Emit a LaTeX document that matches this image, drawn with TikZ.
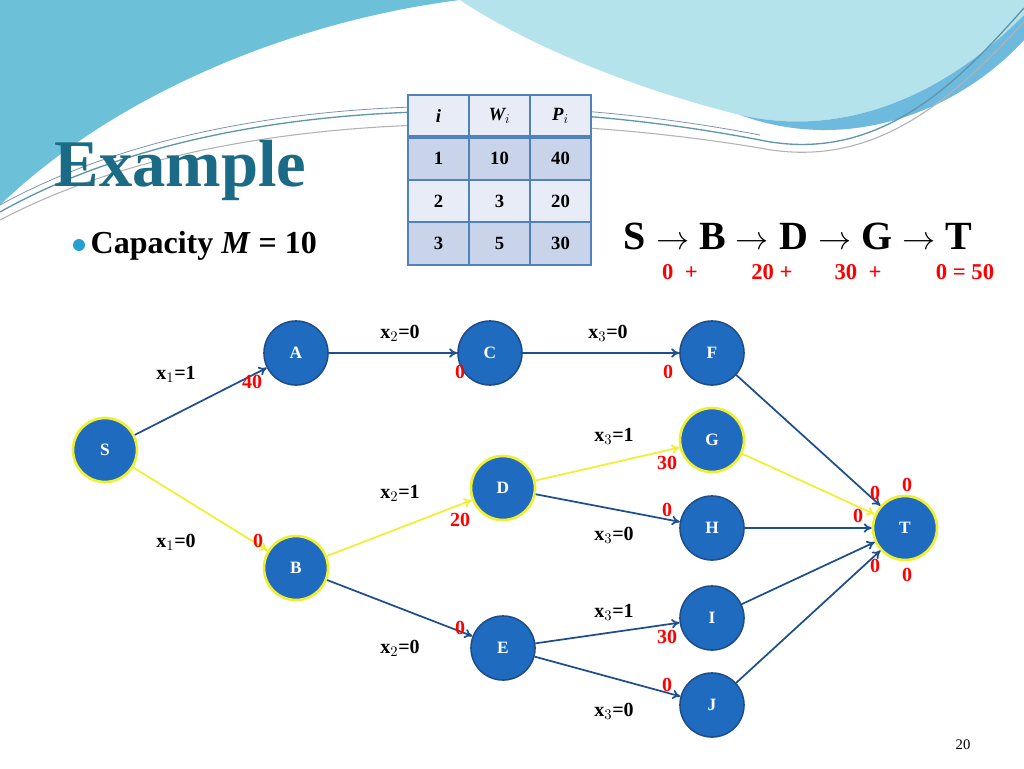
\documentclass[tikz,border=0pt]{standalone}
\usepackage{fontspec}
\setmainfont{Liberation Serif}
\usetikzlibrary{arrows.meta,positioning}
\definecolor{nodeblue}{HTML}{1F6BC0}
\definecolor{edgeblue}{HTML}{1F4E8C}
\definecolor{hiyel}{HTML}{F0F030}
\definecolor{teal}{HTML}{1C6B86}
\definecolor{wave}{HTML}{6CC0D8}
\definecolor{wavelight}{HTML}{B5E3EC}
\definecolor{wavedeep}{HTML}{4FA8DA}
\definecolor{rowdark}{HTML}{C9D4EA}
\definecolor{rowlight}{HTML}{E7ECF6}
\definecolor{tline}{HTML}{4F81BD}
\tikzset{
  vertex/.style={circle, fill=nodeblue, draw=edgeblue, line width=1.2pt, minimum size=48pt, inner sep=0pt, text=white, font=\bfseries\fontsize{13}{13}\selectfont},
  chosen/.style={vertex, draw=hiyel, line width=2pt},
  edge/.style={-{To[length=6pt,width=7pt]}, draw=edgeblue, line width=1.3pt},
  hot/.style={edge, draw=hiyel},
  xlab/.style={font=\bfseries\fontsize{15}{15}\selectfont},
  plab/.style={text=red, font=\bfseries\fontsize{15}{15}\selectfont},
  sumlab/.style={text=red, inner sep=1pt, font=\bfseries\fontsize{17}{17}\selectfont},
  cellbox/.style={draw=tline, line width=1.2pt, minimum width=45.75pt, minimum height=31.9pt, inner sep=0pt, font=\bfseries\fontsize{14}{14}\selectfont},
}
\begin{document}
\begin{tikzpicture}[x=0.75pt, y=-0.75pt]
\useasboundingbox (0,0) rectangle (1024,768);
\fill[white] (0,0) rectangle (1024,768);
% waves
\fill[wavelight] (460,0) -- (1024,0) -- (1024,15) .. controls (950,90) and (850,140) .. (740,115) .. controls (620,85) and (520,40) .. (460,0) -- cycle;
\fill[wavedeep!70!wavelight] (1024,15) .. controls (950,90) and (850,140) .. (740,115) .. controls (850,155) and (960,110) .. (1024,40) -- cycle;
\fill[wave] (0,0) -- (460,0) .. controls (300,20) and (120,90) .. (0,205) -- cycle;
\draw[teal!70, line width=1pt] (0,212) .. controls (200,100) and (500,90) .. (760,140) .. controls (880,165) and (960,80) .. (1024,8);
\draw[gray!60, line width=0.8pt] (0,220) .. controls (200,115) and (500,105) .. (760,148) .. controls (880,172) and (960,90) .. (1024,22);
\draw[edgeblue!60, line width=0.6pt] (0,205) .. controls (200,95) and (500,85) .. (760,135);
% title
\node[anchor=west, text=teal, font=\bfseries\fontsize{50}{50}\selectfont] (title) at (50,170) {Example};
\fill[cyan!70!teal] (79,245) circle (6);
\node[anchor=west, font=\bfseries\fontsize{24}{24}\selectfont] (cap) at (86,246) {Capacity \textit{M} = 10};
% table
\foreach \r/\fc [count=\k from 0] in {0/rowlight,1/rowdark,2/rowlight,3/rowdark}
  \foreach \c [count=\j from 0] in {0,1,2}
    \node[cellbox, fill=\fc] (cell-\r-\c) at (438.5+\j*61, 116+\k*42.5) {};
\node[cellbox, draw=none] at (cell-0-0) {\textit{i}};
\node[cellbox, draw=none] at (cell-0-1) {\textit{W$_i$}};
\node[cellbox, draw=none] at (cell-0-2) {\textit{P$_i$}};
\node[cellbox, draw=none] at (cell-1-0) {1};
\node[cellbox, draw=none] at (cell-1-1) {10};
\node[cellbox, draw=none] at (cell-1-2) {40};
\node[cellbox, draw=none] at (cell-2-0) {2};
\node[cellbox, draw=none] at (cell-2-1) {3};
\node[cellbox, draw=none] at (cell-2-2) {20};
\node[cellbox, draw=none] at (cell-3-0) {3};
\node[cellbox, draw=none] at (cell-3-1) {5};
\node[cellbox, draw=none] at (cell-3-2) {30};
\draw[tline, line width=3pt] (408,137) -- (590,137);
% path
\node[inner sep=1pt, font=\bfseries\fontsize{30}{30}\selectfont] (path) at (798,236) {S $\rightarrow$ B $\rightarrow$ D $\rightarrow$ G $\rightarrow$ T};
\node[sumlab] at (680,272) {0 \ +};
\node[sumlab] at (772,272) {20 +};
\node[sumlab] at (858,272) {30 \ +};
\node[sumlab] at (965,272) {0 = 50};
% graph
\node[chosen] (S) at (105,450) {S};
\node[vertex] (A) at (296,353) {A};
\node[chosen] (B) at (296,568) {B};
\node[vertex] (C) at (490,353) {C};
\node[chosen] (D) at (503,488) {D};
\node[vertex] (E) at (503,648) {E};
\node[vertex] (F) at (712,353) {F};
\node[chosen] (G) at (712,440) {G};
\node[vertex] (H) at (712,528) {H};
\node[vertex] (I) at (712,618) {I};
\node[vertex] (J) at (712,705) {J};
\node[chosen] (T) at (905,528) {T};
\draw[edge] (S) -- (A);
\draw[hot] (S) -- (B);
\draw[edge] (A) -- (C);
\draw[edge] (C) -- (F);
\draw[hot] (B) -- (D);
\draw[edge] (B) -- (E);
\draw[hot] (D) -- (G);
\draw[edge] (D) -- (H);
\draw[edge] (E) -- (I);
\draw[edge] (E) -- (J);
\draw[edge] (F) -- (T);
\draw[hot] (G) -- (T);
\draw[edge] (H) -- (T);
\draw[edge] (I) -- (T);
\draw[edge] (J) -- (T);
% labels
\node[xlab] at (176,374) {x$_1$=1};
\node[plab] at (252,382) {40};
\node[xlab] at (176,542) {x$_1$=0};
\node[plab] at (258,541) {0};
\node[xlab] at (400,333) {x$_2$=0};
\node[plab] at (460,372) {0};
\node[xlab] at (608,333) {x$_3$=0};
\node[plab] at (668,372) {0};
\node[xlab] at (614,436) {x$_3$=1};
\node[plab] at (667,463) {30};
\node[xlab] at (400,493) {x$_2$=1};
\node[plab] at (460,520) {20};
\node[plab] at (667,510) {0};
\node[xlab] at (614,535) {x$_3$=0};
\node[plab] at (460,628) {0};
\node[xlab] at (400,648) {x$_2$=0};
\node[xlab] at (614,612) {x$_3$=1};
\node[plab] at (667,637) {30};
\node[plab] at (667,685) {0};
\node[xlab] at (614,711) {x$_3$=0};
\node[plab] at (875,493) {0};
\node[plab] at (907,485) {0};
\node[plab] at (858,516) {0};
\node[plab] at (875,566) {0};
\node[plab] at (907,575) {0};
\node[font=\fontsize{11}{11}\selectfont] (pg) at (963,745) {20};
\end{tikzpicture}
\end{document}
